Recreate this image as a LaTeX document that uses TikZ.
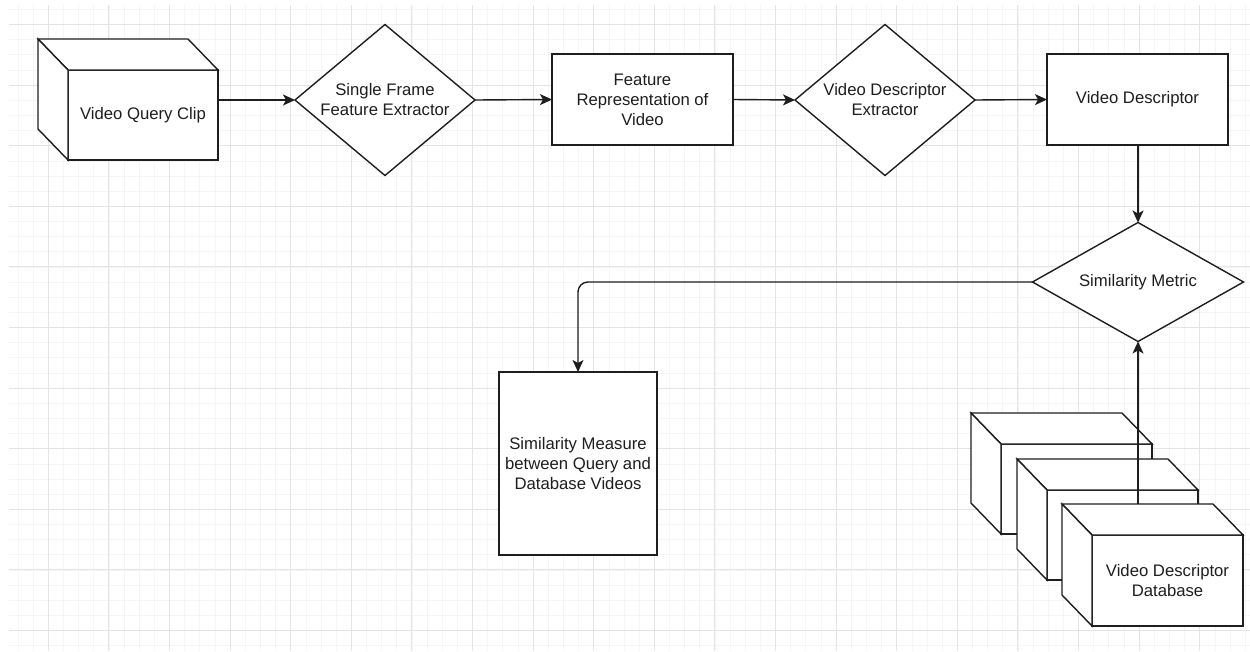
\documentclass[tikz,border=0pt]{standalone}
\usepackage{fontspec}
\setmainfont{Liberation Sans}
\usetikzlibrary{shapes.geometric,arrows.meta,calc}
\definecolor{inkc}{HTML}{1E1E1E}
\definecolor{gridmajor}{HTML}{E4E4E4}
\definecolor{gridminor}{HTML}{F5F5F5}
\newcommand\diagfont{\fontsize{16.7}{20}\selectfont}
\newcommand\cubefaces[1]{%
  \draw[shapeline, fill=white] (#1.north west) -- ++(-30,-31) -- ($(#1.north east)+(-30,-31)$) -- (#1.north east) -- cycle;
  \draw[shapeline, fill=white] (#1.north west) -- ++(-30,-31) -- ($(#1.south west)+(-30,-31)$) -- (#1.south west) -- cycle;}
\begin{document}
\begin{tikzpicture}[x=1pt,y=-1pt,
  shapeline/.style={draw=inkc, line width=1.4pt, line join=miter},
  box/.style={shapeline, rectangle, fill=white, inner sep=0pt, outer sep=0pt, font=\diagfont, text=inkc, align=center},
  diam/.style={shapeline, diamond, fill=white, inner sep=0pt, outer sep=0pt},
  lbl/.style={font=\diagfont, text=inkc, align=center, inner sep=0pt},
  conn/.style={draw=inkc, line width=1.4pt, -{Stealth[length=12pt,width=11pt,inset=3pt]}},
  gmaj/.style={draw=gridmajor, line width=0.9pt},
  gmin/.style={draw=gridminor, line width=0.7pt}]
\useasboundingbox (0,0) rectangle (1250,651);
\fill[white] (0,0) rectangle (1250,651);
% grid
\foreach \k in {-2,...,79} \draw[gmin] ({48.3+15.15*\k},5) -- ({48.3+15.15*\k},651);
\foreach \k in {-1,...,41} \draw[gmin] (9,{24.5+15.15*\k}) -- (1250,{24.5+15.15*\k});
\foreach \k in {0,...,19} \draw[gmaj] ({48.3+60.6*\k},5) -- ({48.3+60.6*\k},651);
\foreach \k in {0,...,10} \draw[gmaj] (9,{24.5+60.6*\k}) -- (1250,{24.5+60.6*\k});

% top row
\node[box, minimum width=150pt, minimum height=90pt] (q) at (143,115) {Video Query Clip};
\cubefaces{q}
\node[diam, minimum width=180pt, minimum height=151pt,
      label={[lbl]center:{Single Frame\\Feature Extractor}}] (d1) at (385,100) {};
\node[box, minimum width=181pt, minimum height=91pt] (r1) at (642.5,99.5) {Feature\\Representation of\\Video};
\node[diam, minimum width=180pt, minimum height=151pt,
      label={[lbl]center:{Video Descriptor\\Extractor}}] (d2) at (885,100) {};
\node[box, minimum width=181pt, minimum height=91pt] (r2) at (1137.5,99.5) {Video Descriptor};

% similarity
\node[diam, minimum width=211pt, minimum height=119pt,
      label={[lbl]center:{Similarity Metric}}] (d3) at (1138,282) {};
\node[box, minimum width=158pt, minimum height=183pt] (r3) at (578,463.5) {Similarity Measure\\between Query and\\Database Videos};

% database stack
\node[box, minimum width=151pt, minimum height=90pt] (dbA) at (1076.5,489) {};
\cubefaces{dbA}
\node[box, minimum width=151pt, minimum height=90pt] (dbB) at (1122.5,535) {};
\cubefaces{dbB}
\node[box, minimum width=151pt, minimum height=91pt] (dbC) at (1167.5,580.5) {Video Descriptor\\Database};
\cubefaces{dbC}
\coordinate (cTop) at ($(dbC.north)+(0,-31)$);

% connectors
\draw[conn] (d1.west -| q.east) -- (d1.west);
\draw[conn] (d1.east) -- (r1.west);
\draw[conn] (r1.east) -- (d2.west);
\draw[conn] (d2.east) -- (r2.west);
\draw[conn] (d3.north |- r2.south) -- (d3.north);
\draw[conn, rounded corners=10pt] (d3.west) -| (r3.north);
\draw[conn] (d3.south |- cTop) -- (d3.south);
\end{tikzpicture}
\end{document}
